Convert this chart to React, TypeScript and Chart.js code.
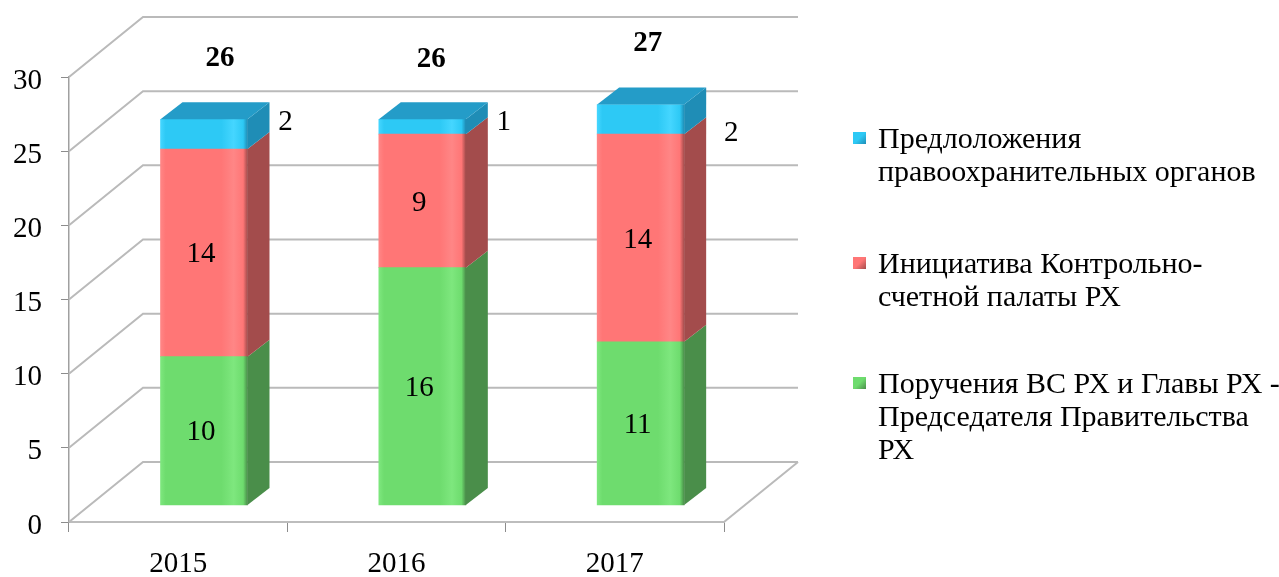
import React, { useEffect, useRef } from 'react';
import { Chart, registerables } from 'chart.js';

Chart.register(...registerables);

// ---- data ----
const categories = ['2015', '2016', '2017'];
const seriesNames = [
  'Поручения ВС РХ и Главы РХ - Председателя Правительства РХ',
  'Инициатива Контрольно-счетной палаты РХ',
  'Предлоложения правоохранительных органов',
];
const porucheniya = [10, 16, 11];
const iniciativa = [14, 9, 14];
const predlozheniya = [2, 1, 2];
const totals = [26, 26, 27];
const yTickValues = [0, 5, 10, 15, 20, 25, 30];

// legend lines (as wrapped in the reference)
const legendLines = [
  ['Предлоложения', 'правоохранительных органов'],
  ['Инициатива Контрольно-', 'счетной палаты РХ'],
  ['Поручения ВС РХ и Главы РХ -', 'Председателя Правительства', 'РХ'],
];

// ---- style ----
const FONT = "'Liberation Serif', 'Times New Roman', serif";
const FRONT = ['#6EDC6E', '#FF7676', '#2DC9F5'];
const LIGHT = ['#7EE77E', '#FF8686', '#45D6FF'];
const SIDE = ['#4A8E4A', '#A34C4C', '#1F8DB6'];
const TOP_BLUE = '#249CC8';
const WALL_DX = 74;
const WALL_DY = 60;
const BAR_DX = 22;
const BAR_DY = 17;
const BAR_W = 87;
// manual nudges of the outside labels (pixels), as placed in the reference
const OUTSIDE_NUDGE = [[0, -12], [0, -4], [9, 14]];
const TOTAL_NUDGE = [[16, 0], [9, 1], [7, 0]];

function frontFill(idx: number) {
  return (c: any) => {
    try {
      const ch = c.chart;
      const sx = ch.scales && ch.scales.xb;
      if (!sx || c.type !== 'data' || !c.raw) return FRONT[idx];
      const cx = sx.getPixelForValue(c.raw.x);
      if (!isFinite(cx)) return FRONT[idx];
      const g = ch.ctx.createLinearGradient(cx - BAR_W / 2, 0, cx + BAR_W / 2, 0);
      g.addColorStop(0, LIGHT[idx]);
      g.addColorStop(0.06, FRONT[idx]);
      g.addColorStop(0.7, FRONT[idx]);
      g.addColorStop(0.84, LIGHT[idx]);
      g.addColorStop(0.95, FRONT[idx]);
      g.addColorStop(1, SIDE[idx]);
      return g;
    } catch (e) {
      return FRONT[idx];
    }
  };
}

const frame3d = {
  id: 'frame3d',
  beforeDatasetsDraw(chart: any) {
    const { ctx, chartArea } = chart;
    const y = chart.scales.y;
    ctx.save();
    ctx.lineWidth = 2;
    ctx.strokeStyle = '#BABABA';
    for (const v of yTickValues) {
      const py = y.getPixelForValue(v);
      ctx.beginPath();
      ctx.moveTo(chartArea.left, py);
      ctx.lineTo(chartArea.left + WALL_DX, py - WALL_DY);
      ctx.lineTo(chartArea.right + WALL_DX, py - WALL_DY);
      ctx.stroke();
    }
    const by = y.getPixelForValue(0);
    ctx.beginPath();
    ctx.moveTo(chartArea.right, by);
    ctx.lineTo(chartArea.right + WALL_DX, by - WALL_DY);
    ctx.stroke();
    ctx.restore();
  },
  afterDatasetsDraw(chart: any) {
    const { ctx } = chart;
    const n = chart.data.datasets.length;
    ctx.save();
    for (let d = 0; d < n; d++) {
      const meta = chart.getDatasetMeta(d);
      meta.data.forEach((bar: any) => {
        const { x, y, base, width } = bar.getProps(['x', 'y', 'base', 'width'], true);
        const right = x + width / 2;
        const left = x - width / 2;
        ctx.fillStyle = SIDE[d];
        ctx.beginPath();
        ctx.moveTo(right, y);
        ctx.lineTo(right + BAR_DX, y - BAR_DY);
        ctx.lineTo(right + BAR_DX, base - BAR_DY);
        ctx.lineTo(right, base);
        ctx.closePath();
        ctx.fill();
        if (d === n - 1) {
          ctx.fillStyle = TOP_BLUE;
          ctx.beginPath();
          ctx.moveTo(left, y);
          ctx.lineTo(left + BAR_DX, y - BAR_DY);
          ctx.lineTo(right + BAR_DX, y - BAR_DY);
          ctx.lineTo(right, y);
          ctx.closePath();
          ctx.fill();
        }
      });
    }
    // value labels
    ctx.fillStyle = '#000';
    ctx.textBaseline = 'middle';
    ctx.textAlign = 'center';
    ctx.font = `29px ${FONT}`;
    for (let d = 0; d < n; d++) {
      const meta = chart.getDatasetMeta(d);
      const ds = chart.data.datasets[d];
      meta.data.forEach((bar: any, i: number) => {
        const { x, y, base, width } = bar.getProps(['x', 'y', 'base', 'width'], true);
        const val = ds.data[i].y;
        const my = (y + base) / 2;
        if (d === n - 1) {
          const [nx, ny] = OUTSIDE_NUDGE[i];
          ctx.fillText(String(val), x + width / 2 + BAR_DX + 16 + nx, my + ny);
        } else {
          ctx.fillText(String(val), x - 3, my + 2);
        }
      });
    }
    // totals
    ctx.font = `bold 29px ${FONT}`;
    const yb = chart.scales.yb;
    const topMeta = chart.getDatasetMeta(n - 1);
    topMeta.data.forEach((bar: any, i: number) => {
      const { x } = bar.getProps(['x'], true);
      const [nx, ny] = TOTAL_NUDGE[i];
      ctx.fillText(String(totals[i]), x + nx, yb.getPixelForValue(totals[i]) - 61 + ny);
    });
    ctx.restore();
  },
};

export default function App() {
  const ref = useRef<HTMLCanvasElement>(null);
  useEffect(() => {
    if (!ref.current) return;
    const series = [porucheniya, iniciativa, predlozheniya];
    const chart = new Chart(ref.current, {
      type: 'bar',
      data: {
        labels: categories,
        datasets: series.map((arr, d) => ({
          label: seriesNames[d],
          data: arr.map((v, i) => ({ x: i, y: v })),
          backgroundColor: frontFill(d),
          borderWidth: 0,
          xAxisID: 'xb',
          yAxisID: 'yb',
          stack: 's',
          barThickness: BAR_W,
        })),
      },
      options: {
        animation: false,
        responsive: false,
        devicePixelRatio: 1,
        layout: { padding: { left: 0, top: 77, right: 555, bottom: 0 } },
        plugins: { legend: { display: false }, tooltip: { enabled: false } },
        scales: {
          x: {
            type: 'category',
            position: 'bottom',
            offset: true,
            grid: { offset: true, drawOnChartArea: false, drawTicks: true, tickLength: 10, color: '#8C8C8C', lineWidth: 1 },
            border: { display: true, color: '#BDBDBD', width: 2 },
            ticks: { font: { family: FONT, size: 29 }, color: '#000', padding: 15 },
            afterFit: (s: any) => { s.height = 55; },
          },
          y: {
            type: 'linear',
            position: 'left',
            min: 0,
            max: 30,
            ticks: { stepSize: 5, font: { family: FONT, size: 29 }, color: '#000', padding: 19, labelOffset: 4 },
            grid: { drawOnChartArea: false, drawTicks: true, tickLength: 8, color: '#8C8C8C' },
            border: { display: true, color: '#A0A0A0', width: 1.5 },
            afterFit: (s: any) => { s.width = 69; },
          },
          xb: { type: 'linear', display: false, offset: false, grid: { offset: false }, min: -0.6183, max: 2.3817, stacked: true },
          yb: { type: 'linear', display: false, min: -1.146, max: 28.854, stacked: true },
        },
      } as any,
      plugins: [frame3d],
    });
    return () => chart.destroy();
  }, []);

  const legendTops = [121, 246, 366];
  const lh = 33;
  const legendColors = [
    [FRONT[2], SIDE[2]],
    [FRONT[1], SIDE[1]],
    [FRONT[0], SIDE[0]],
  ];

  return (
    <div style={{ position: 'absolute', left: 0, top: 0, width: 1279, height: 577, background: '#fff', overflow: 'hidden' }}>
      <canvas ref={ref} width={1279} height={577} style={{ position: 'absolute', left: 0, top: 0, width: 1279, height: 577 }} />
      {legendLines.map((lines, k) => (
        <div key={k} style={{ position: 'absolute', left: 853, top: legendTops[k], fontFamily: FONT, fontSize: 30, lineHeight: `${lh}px`, color: '#000', whiteSpace: 'nowrap' }}>
          <span style={{
            position: 'absolute', left: 0, top: lh / 2 - 6, width: 13, height: 12,
            background: `linear-gradient(135deg, ${legendColors[k][0]} 0%, ${legendColors[k][0]} 50%, ${legendColors[k][1]} 100%)`,
          }} />
          <div style={{ marginLeft: 25 }}>
            {lines.map((t, j) => (<div key={j}>{t}</div>))}
          </div>
        </div>
      ))}
    </div>
  );
}
